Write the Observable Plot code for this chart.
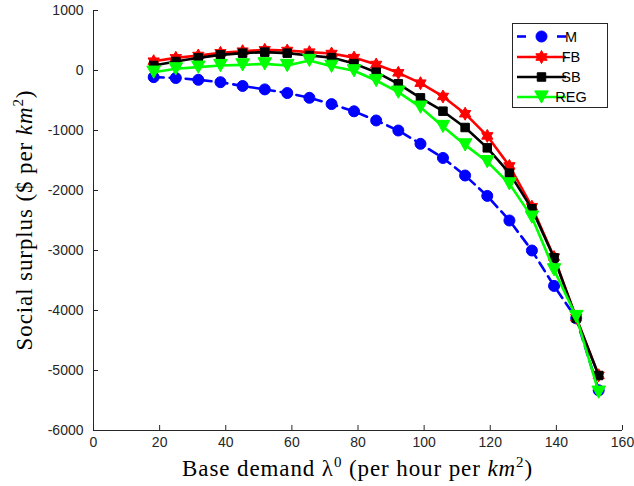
<!DOCTYPE html>
<html><head><meta charset="utf-8">
<script src="https://cdn.jsdelivr.net/npm/d3@7"></script>
<script src="https://cdn.jsdelivr.net/npm/@observablehq/plot@0.6"></script>
<style>body{margin:0;background:#fff}#chart svg{display:block}</style>
</head><body><div id="chart"></div>
<script>
// ---- data ----
const demand = [18.2, 24.9, 31.7, 38.4, 45.1, 51.8, 58.6, 65.3, 72.0, 78.8, 85.5, 92.2, 98.9, 105.7, 112.4, 119.1, 125.8, 132.6, 139.3, 146.0, 152.8];
const surplusM   = [-111, -125, -155, -195, -258, -315, -375, -455, -560, -680, -833, -1000, -1222, -1458, -1750, -2090, -2500, -3000, -3590, -4130, -5330];
const surplusFB  = [155, 211, 250, 294, 322, 344, 333, 306, 283, 215, 100, -39, -211, -433, -720, -1090, -1590, -2270, -3110, -4120, -5080];
const surplusSB  = [83, 150, 211, 261, 289, 306, 289, 250, 215, 115, -28, -222, -456, -678, -950, -1289, -1711, -2306, -3122, -4130, -5083];
const surplusREG = [-28, 28, 56, 83, 94, 111, 83, 167, 70, -5, -167, -361, -611, -933, -1240, -1520, -1889, -2444, -3322, -4100, -5361];
const seriesNames = ["M", "FB", "SB", "REG"];
const seriesColors = ["#0000ff", "#ff0000", "#000000", "#00ff00"];
const xTicks = [0, 20, 40, 60, 80, 100, 120, 140, 160];
const yTicks = [-6000, -5000, -4000, -3000, -2000, -1000, 0, 1000];

// ---- marker shapes ----
const hexagram = {draw(ctx, size) {
  const R = Math.sqrt(size / Math.PI), r = R / Math.sqrt(3);
  for (let i = 0; i < 12; i++) {
    const a = -Math.PI / 2 + i * Math.PI / 6, rr = i % 2 ? r : R;
    const px = rr * Math.cos(a), py = rr * Math.sin(a);
    i ? ctx.lineTo(px, py) : ctx.moveTo(px, py);
  }
  ctx.closePath();
}};
const squareSym = {draw(ctx, size) {
  const s = Math.sqrt(size / Math.PI) * 0.8;
  ctx.moveTo(-s, -s); ctx.lineTo(s, -s); ctx.lineTo(s, s); ctx.lineTo(-s, s); ctx.closePath();
}};
const triDown = {draw(ctx, size) {
  const R = Math.sqrt(size / Math.PI);
  ctx.moveTo(-R, -R * 0.9); ctx.lineTo(R, -R * 0.9); ctx.lineTo(0, R * 0.9); ctx.closePath();
}};
const circleSym = {draw(ctx, size) {
  const R = Math.sqrt(size / Math.PI);
  ctx.moveTo(R, 0); ctx.arc(0, 0, R, 0, 2 * Math.PI);
}};

const seriesValues = [surplusM, surplusFB, surplusSB, surplusREG];
const symbols = [circleSym, hexagram, squareSym, triDown];
const radii = [5.5, 6.5, 5.3, 6.8];
const dashes = ["10,6", null, null, null];

const tables = seriesValues.map(vals => demand.map((x, i) => ({x, y: vals[i]})));

const W = 634, H = 486, ML = 93, MR = 12, MT = 10, MB = 56;
const frameW = W - ML - MR, frameH = H - MT - MB, tickLen = 5;
const axisColor = "#262626";
const marks = [
  Plot.ruleX([0], {stroke: axisColor, strokeWidth: 1}),
  Plot.ruleY([-6000], {stroke: axisColor, strokeWidth: 1}),
  Plot.tickX(xTicks, {x: d => d, insetTop: frameH - tickLen, stroke: axisColor, strokeWidth: 1}),
  Plot.tickY(yTicks, {y: d => d, insetRight: frameW - tickLen, stroke: axisColor, strokeWidth: 1}),
  Plot.axisX(xTicks, {tickSize: 0, tickPadding: 7, tickFormat: d => String(d), label: null, fill: axisColor}),
  Plot.axisY(yTicks, {tickSize: 0, tickPadding: 10, tickFormat: d => String(d), label: null, fill: axisColor})
];
tables.forEach((t, k) => {
  marks.push(Plot.line(t, {x: "x", y: "y", stroke: seriesColors[k], strokeWidth: 2.6, strokeDasharray: dashes[k]}));
  marks.push(Plot.dot(t, {x: "x", y: "y", symbol: symbols[k], r: radii[k], fill: seriesColors[k], stroke: seriesColors[k], strokeWidth: 1}));
});

const chart = Plot.plot({
  width: W, height: H,
  marginLeft: ML, marginRight: MR, marginTop: MT, marginBottom: MB,
  x: {domain: [0, 160]},
  y: {domain: [-6000, 1000]},
  style: {fontFamily: "'Liberation Sans', Arial, sans-serif", fontSize: "14px", color: axisColor, background: "white"},
  marks
});
document.getElementById("chart").appendChild(chart);

// ---- axis labels (LaTeX-like) and legend ----
const svg = d3.select(chart);
const xs = chart.scale("x"), ys = chart.scale("y");
const serif = "'Liberation Serif', 'DejaVu Serif', serif";
function addLabel(g, parts) {
  parts.forEach(p => {
    const t = g.append("tspan").text(p.t);
    if (p.i) t.style("font-style", "italic");
    if (p.sup) t.attr("dy", -9).style("font-size", "15px");
    if (p.after) t.attr("dy", 9);
  });
}
const xl = svg.append("text")
  .attr("x", (xs.range[0] + xs.range[1]) / 2).attr("y", 476)
  .attr("text-anchor", "middle").attr("fill", "#000")
  .style("font-family", serif).style("font-size", "23px").style("letter-spacing", "0.9px");
addLabel(xl, [{t: "Base demand λ"}, {t: "0", sup: 1}, {t: " (per hour per ", after: 1}, {t: "km", i: 1}, {t: "2", sup: 1}, {t: ")", after: 1}]);

const ymid = (ys.range[0] + ys.range[1]) / 2;
const yl = svg.append("text")
  .attr("transform", `translate(32,${ymid}) rotate(-90)`)
  .attr("text-anchor", "middle").attr("fill", "#000")
  .style("font-family", serif).style("font-size", "23px").style("letter-spacing", "0.9px");
addLabel(yl, [{t: "Social surplus ($ per "}, {t: "km", i: 1}, {t: "2", sup: 1}, {t: ")", after: 1}]);

// legend
const lg = svg.append("g");
lg.append("rect").attr("x", 512.5).attr("y", 23.5).attr("width", 95).attr("height", 84)
  .attr("fill", "white").attr("stroke", axisColor).attr("stroke-width", 1);
const rowY = [36.5, 57, 77, 97];
seriesNames.forEach((name, k) => {
  const y = rowY[k];
  if (k === 0) {
    lg.append("line").attr("x1", 517).attr("x2", 526).attr("y1", y).attr("y2", y).attr("stroke", seriesColors[k]).attr("stroke-width", 2.6);
    lg.append("line").attr("x1", 557).attr("x2", 566).attr("y1", y).attr("y2", y).attr("stroke", seriesColors[k]).attr("stroke-width", 2.6);
  } else {
    lg.append("line").attr("x1", 517).attr("x2", 566).attr("y1", y).attr("y2", y).attr("stroke", seriesColors[k]).attr("stroke-width", 2.6);
  }
  lg.append("path").attr("transform", `translate(541.5,${y})`)
    .attr("d", d3.symbol(symbols[k], Math.PI * radii[k] * radii[k])())
    .attr("fill", seriesColors[k]).attr("stroke", seriesColors[k]);
  lg.append("text").attr("x", 571).attr("y", y).attr("dy", "0.36em")
    .attr("fill", "#000").style("font-family", "'Liberation Sans', Arial, sans-serif").style("font-size", "14.5px").text(name);
});
</script>
</body></html>
